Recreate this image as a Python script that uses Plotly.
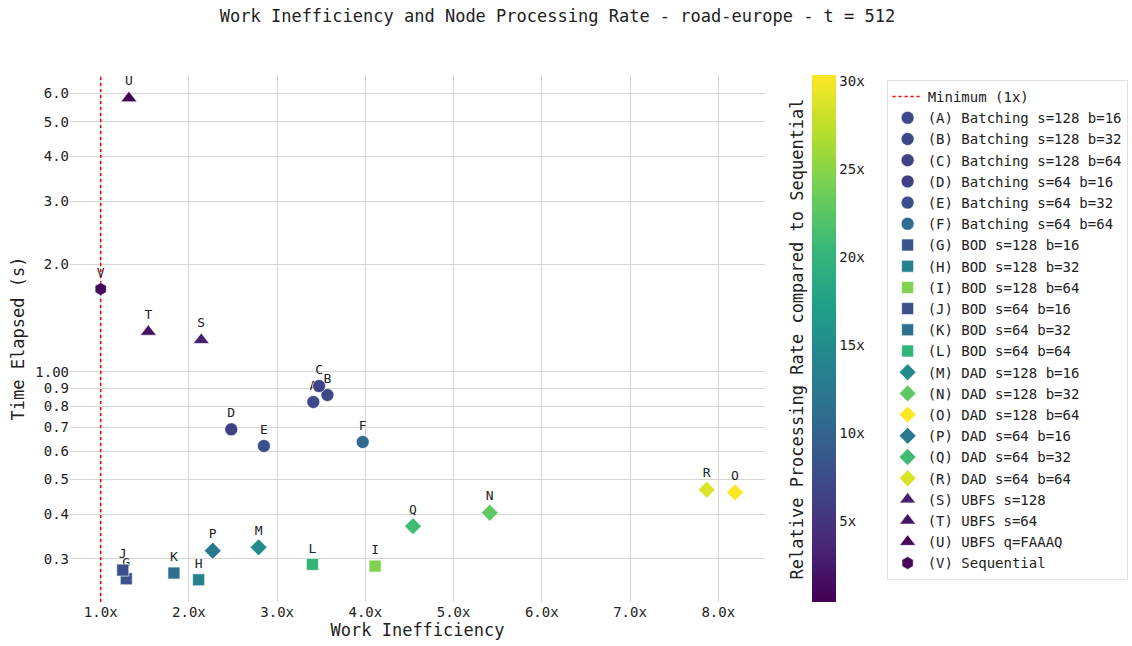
import math
import plotly.graph_objects as go
from plotly.colors import sample_colorscale

# ---- data ----
letters = list("ABCDEFGHIJKLMNOPQRSTUV")
names = [
    "Batching s=128 b=16", "Batching s=128 b=32", "Batching s=128 b=64",
    "Batching s=64 b=16", "Batching s=64 b=32", "Batching s=64 b=64",
    "BOD s=128 b=16", "BOD s=128 b=32", "BOD s=128 b=64",
    "BOD s=64 b=16", "BOD s=64 b=32", "BOD s=64 b=64",
    "DAD s=128 b=16", "DAD s=128 b=32", "DAD s=128 b=64",
    "DAD s=64 b=16", "DAD s=64 b=32", "DAD s=64 b=64",
    "UBFS s=128", "UBFS s=64", "UBFS q=FAAAQ", "Sequential",
]
work_inefficiency = [3.41, 3.57, 3.475, 2.48, 2.85, 3.97,
                     1.29, 2.11, 4.11, 1.25, 1.83, 3.40,
                     2.79, 5.41, 8.19, 2.27, 4.54, 7.87,
                     2.14, 1.54, 1.32, 1.0]
time_elapsed = [0.823, 0.861, 0.912, 0.690, 0.620, 0.636,
                0.2636, 0.2619, 0.286, 0.2788, 0.2735, 0.2893,
                0.3228, 0.4033, 0.460, 0.3157, 0.370, 0.4677,
                1.227, 1.294, 5.82, 1.703]
relative_rate = [7.06, 7.06, 6.49, 6.12, 7.83, 10.63,
                 8.33, 13.72, 24.47, 7.64, 11.39, 20.0,
                 14.72, 22.84, 30.32, 12.25, 20.9, 28.66,
                 2.97, 2.03, 0.386, 1.0]
families = (["Batching"] * 6 + ["BOD"] * 6 + ["DAD"] * 6
            + ["UBFS"] * 3 + ["Sequential"])

x_ticks = [1, 2, 3, 4, 5, 6, 7, 8]
y_ticks = [0.3, 0.4, 0.5, 0.6, 0.7, 0.8, 0.9, 1.0, 2.0, 3.0, 4.0, 5.0, 6.0]
y_ticktext = ["0.3", "0.4", "0.5", "0.6", "0.7", "0.8", "0.9", "1.00",
              "2.0", "3.0", "4.0", "5.0", "6.0"]
cbar_ticks = [5, 10, 15, 20, 25, 30]

x_range = [0.652, 8.53]
y_range = [0.227, 6.76]
minimum_x = 1.0

# ---- style ----
FONT = "DejaVu Sans Mono"
TXT = "#222222"
symbol_of = {"Batching": "circle", "BOD": "square", "DAD": "diamond",
             "UBFS": "triangle-up", "Sequential": "hexagon"}
size_of = {"Batching": 13, "BOD": 12, "DAD": 13,
           "UBFS": 14, "Sequential": 13}

cmin, cmax = min(relative_rate), max(relative_rate)
colors = sample_colorscale("Viridis",
                           [(r - cmin) / (cmax - cmin) for r in relative_rate])

fig = go.Figure()

fig.add_trace(go.Scatter(
    x=[minimum_x, minimum_x], y=y_range, mode="lines",
    line=dict(color="red", width=1.5, dash="dot"),
    name="Minimum (1x)", hoverinfo="skip",
))

for i, L in enumerate(letters):
    fam = families[i]
    fig.add_trace(go.Scatter(
        x=[work_inefficiency[i]], y=[time_elapsed[i]],
        mode="markers+text",
        text=[L], textposition="top center",
        textfont=dict(family=FONT, size=13, color=TXT),
        marker=dict(symbol=symbol_of[fam], size=size_of[fam],
                    color=colors[i],
                    line=dict(width=0.8, color="rgba(255,255,255,0.8)")),
        name=f"({L}) {names[i]}",
    ))

# invisible trace carrying the colour bar
fig.add_trace(go.Scatter(
    x=[work_inefficiency[0]], y=[time_elapsed[0]], mode="markers",
    marker=dict(size=0.001, opacity=0, color=[relative_rate[0]],
                colorscale="Viridis", cmin=cmin, cmax=cmax, showscale=True,
                colorbar=dict(x=1.0672, xanchor="left", xpad=0,
                              y=0, yanchor="bottom", len=1, lenmode="fraction",
                              ypad=0, thickness=24, outlinewidth=0,
                              tickvals=cbar_ticks,
                              ticktext=[f"{t}x" for t in cbar_ticks],
                              ticks="", tickfont=dict(size=14, color=TXT))),
    showlegend=False, hoverinfo="skip",
))

fig.update_layout(
    width=1132, height=646,
    margin=dict(l=70, r=367, t=75, b=44, autoexpand=False),
    paper_bgcolor="white", plot_bgcolor="white",
    font=dict(family=FONT, size=14, color=TXT),
    title=dict(text="Work Inefficiency and Node Processing Rate - road-europe - t = 512",
               x=0.4925, xanchor="center", y=0.975, yanchor="middle",
               font=dict(family=FONT, size=17, color=TXT)),
    xaxis=dict(type="linear", range=x_range, tickvals=x_ticks,
               ticktext=[f"{t:.1f}x" for t in x_ticks],
               showgrid=True, gridcolor="#d6d6d6", gridwidth=1,
               zeroline=False, showline=False, ticks="", automargin=False,
               title=dict(text="Work Inefficiency", standoff=4,
                          font=dict(size=17))),
    yaxis=dict(type="log", range=[math.log10(y_range[0]), math.log10(y_range[1])],
               tickvals=y_ticks, ticktext=y_ticktext,
               showgrid=True, gridcolor="#d6d6d6", gridwidth=1,
               zeroline=False, showline=False, ticks="", automargin=False,
               title=dict(text="Time Elapsed (s)", standoff=6,
                          font=dict(size=17))),
    legend=dict(x=1.175, xanchor="left", y=0.9905, yanchor="top",
                bordercolor="#e0e0e0", borderwidth=1, bgcolor="white",
                font=dict(size=14, color=TXT)),
    annotations=[dict(
        text="Relative Processing Rate compared to Sequential",
        xref="paper", yref="paper", x=1.046, y=0.5,
        xanchor="center", yanchor="middle", textangle=-90,
        showarrow=False, font=dict(family=FONT, size=17, color=TXT),
    )],
)

fig.write_html("out.html")
